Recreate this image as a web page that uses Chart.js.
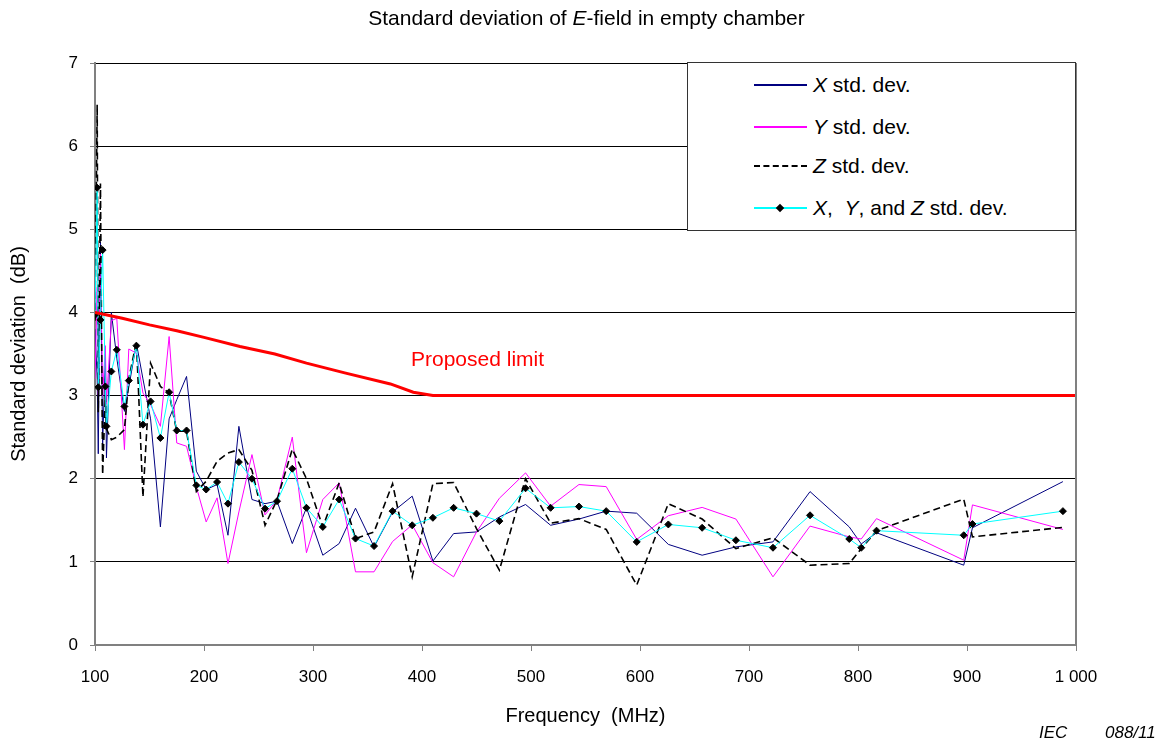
<!DOCTYPE html>
<html>
<head>
<meta charset="utf-8">
<script src="https://cdn.jsdelivr.net/npm/chart.js@4/dist/chart.umd.min.js"></script>
<style>
  body { margin: 0; background: #fff; font-family: "Liberation Sans", Arial, sans-serif; }
  #wrap { position: relative; width: 1173px; height: 742px; }
  #chart { position: absolute; left: 0; top: 0; }
  .ov { position: absolute; white-space: nowrap; color: #000; }
  #title { left: 0; width: 1173px; top: 5px; text-align: center; font-size: 21px; line-height: 26px; }
  #legend { left: 687px; top: 62px; width: 387px; height: 167px; border: 1px solid #333; background: #fff; }
  .row { position: absolute; left: 66px; height: 24px; font-size: 21px; }
  .sample { position: absolute; left: 0; top: 11px; width: 53px; height: 2px; }
  .lbl { position: absolute; left: 59px; top: 0; line-height: 24px; }
  #limit { left: 411px; top: 346px; font-size: 21px; line-height: 26px; color: #ff0000; }
  .iec { top: 723px; font-size: 17px; line-height: 20px; font-style: italic; }
</style>
</head>
<body>
<div id="wrap">
  <canvas id="chart" width="1173" height="742"></canvas>
  <div class="ov" id="title">Standard deviation of <i>E</i>-field in empty chamber</div>
  <div class="ov" id="legend">
    <div class="row" style="top:10px"><div class="sample" style="background:#000080"></div><div class="lbl"><i>X</i> std. dev.</div></div>
    <div class="row" style="top:52px"><div class="sample" style="background:#ff00ff"></div><div class="lbl"><i>Y</i> std. dev.</div></div>
    <div class="row" style="top:91px"><div class="sample" style="height:0;border-top:2px dashed #000"></div><div class="lbl"><i>Z</i> std. dev.</div></div>
    <div class="row" style="top:133px"><div class="sample" style="background:#00ffff"></div>
      <div style="position:absolute;left:23px;top:9px;width:6px;height:6px;background:#000;transform:rotate(45deg)"></div>
      <div class="lbl"><i>X</i>,&nbsp; <i>Y</i>, and <i>Z</i> std. dev.</div></div>
  </div>
  <div class="ov" id="limit">Proposed limit</div>
  <div class="ov iec" style="left:1039px">IEC</div>
  <div class="ov iec" style="left:1105px">088/11</div>
</div>
<script>
// frequencies (MHz) shared by all measured series
const freq = [100, 102, 103, 105, 107, 109.5, 110.5, 115, 120, 127, 131, 138, 144, 151, 160, 168, 175, 184, 193, 202,
  212, 222, 232, 244, 256, 267, 281, 294, 309, 324, 339, 356, 373, 391, 410, 429, 450, 471, 495, 518,
  544, 569, 597, 626, 657, 688, 722, 756, 792, 803, 817, 897, 905, 988];

const xStd = [3.8, 3.2, 2.3, 4.85, 2.4, 3.5, 2.25, 4.0, 3.45, 2.81, 3.1, 3.63, 3.2, 2.72, 1.42, 2.72, 2.95, 3.23, 2.09, 1.87,
  1.93, 1.32, 2.63, 1.75, 1.70, 1.73, 1.22, 1.65, 1.08, 1.22, 1.645, 1.18, 1.6, 1.79, 1.01, 1.34, 1.36, 1.54, 1.69, 1.44,
  1.515, 1.61, 1.585, 1.21, 1.08, 1.18, 1.24, 1.845, 1.42, 1.215, 1.35, 0.96, 1.41, 1.965];

const yStd = [3.2, 4.3, 3.0, 4.7, 3.0, 3.6, 2.9, 3.9, 3.93, 2.35, 3.56, 3.51, 3.03, 2.89, 2.63, 3.71, 2.43, 2.39, 1.9, 1.48,
  1.77, 0.98, 1.6, 2.29, 1.565, 1.745, 2.5, 1.11, 1.75, 1.95, 0.88, 0.88, 1.245, 1.445, 0.99, 0.82, 1.36, 1.765, 2.07, 1.67,
  1.93, 1.905, 1.27, 1.555, 1.655, 1.515, 0.82, 1.43, 1.30, 1.275, 1.52, 1.02, 1.685, 1.39];

const zStd = [3.9, 6.5, 2.8, 5.55, 2.05, 3.0, 2.6, 2.47, 2.5, 2.59, 3.2, 3.65, 1.78, 3.39, 3.11, 3.03, 2.57, 2.57, 1.845, 1.97,
  2.21, 2.31, 2.35, 2.1, 1.44, 1.745, 2.355, 2.0, 1.42, 1.95, 1.28, 1.36, 1.94, 0.82, 1.94, 1.955, 1.4, 0.9, 2.0, 1.465,
  1.52, 1.39, 0.72, 1.70, 1.515, 1.16, 1.29, 0.96, 0.98, 1.16, 1.375, 1.755, 1.30, 1.415];

const xyzStd = [3.97, 5.5, 3.1, 3.91, 4.75, 3.11, 2.63, 3.29, 3.55, 2.87, 3.18, 3.6, 2.65, 2.93, 2.49, 3.04, 2.58, 2.58, 1.92, 1.87,
  1.96, 1.70, 2.20, 2.0, 1.64, 1.73, 2.12, 1.65, 1.42, 1.75, 1.28, 1.19, 1.61, 1.44, 1.53, 1.65, 1.58, 1.49, 1.885, 1.65,
  1.665, 1.61, 1.24, 1.45, 1.41, 1.26, 1.17, 1.56, 1.275, 1.17, 1.375, 1.32, 1.455, 1.61];

// proposed limit curve
const limitFreq = [100, 125, 150, 175, 200, 233, 265, 294, 330, 371, 392, 410, 1000];
const limitVal = [4.0, 3.93, 3.85, 3.78, 3.70, 3.59, 3.50, 3.39, 3.27, 3.14, 3.04, 3.0, 3.0];

const xTicks = [100, 200, 300, 400, 500, 600, 700, 800, 900, 1000];

function pts(xs, ys) {
  return xs.map((x, i) => ({ x: x, y: ys[i] }));
}

// right frame line of the plot area
const frame = {
  id: 'frame',
  afterDraw(chart) {
    const a = chart.chartArea, ctx = chart.ctx;
    ctx.save();
    ctx.strokeStyle = '#808080';
    ctx.lineWidth = 2;
    ctx.beginPath();
    ctx.moveTo(a.right, a.top);
    ctx.lineTo(a.right, a.bottom);
    ctx.stroke();
    ctx.restore();
  }
};

const fontTick = { family: '"Liberation Sans", Arial, sans-serif', size: 17 };
const fontTitle = { family: '"Liberation Sans", Arial, sans-serif', size: 20 };

new Chart(document.getElementById('chart'), {
  type: 'line',
  data: {
    datasets: [
      { label: 'Proposed limit', data: pts(limitFreq, limitVal), borderColor: '#ff0000', borderWidth: 3,
        pointRadius: 0, order: 1 },
      { label: 'X, Y, and Z std. dev.', data: pts(freq, xyzStd), borderColor: '#00ffff', borderWidth: 1,
        pointStyle: 'rectRot', pointRadius: 3.5, pointBackgroundColor: '#000', pointBorderColor: '#000', order: 2 },
      { label: 'Z std. dev.', data: pts(freq, zStd), borderColor: '#000', borderWidth: 1.6, borderDash: [7, 4],
        pointRadius: 0, order: 3 },
      { label: 'Y std. dev.', data: pts(freq, yStd), borderColor: '#ff00ff', borderWidth: 1, pointRadius: 0, order: 4 },
      { label: 'X std. dev.', data: pts(freq, xStd), borderColor: '#000080', borderWidth: 1, pointRadius: 0, order: 5 }
    ]
  },
  options: {
    responsive: false,
    animation: false,
    devicePixelRatio: 1,
    layout: { padding: { left: 0, right: 97, top: 63, bottom: 0 } },
    plugins: { legend: { display: false }, tooltip: { enabled: false } },
    scales: {
      x: {
        type: 'linear', min: 100, max: 1000,
        afterFit(s) { s.height = 97; },
        afterBuildTicks(s) { s.ticks = xTicks.map(v => ({ value: v })); },
        ticks: { color: '#000', font: fontTick, padding: 16, maxRotation: 0,
          callback: v => v === 1000 ? '1 000' : String(v) },
        grid: { drawOnChartArea: false, drawTicks: true, tickLength: 6, tickColor: '#808080' },
        border: { color: '#808080', width: 2 },
        title: { display: true, text: 'Frequency  (MHz)', color: '#000', font: fontTitle, padding: { top: 0, bottom: 14 } }
      },
      y: {
        min: 0, max: 7,
        afterFit(s) { s.width = 95; },
        ticks: { stepSize: 1, color: '#000', font: fontTick, padding: 12 },
        grid: { color: '#000', lineWidth: 1, tickLength: 5, tickColor: '#808080' },
        border: { color: '#808080', width: 2 },
        title: { display: true, text: 'Standard deviation  (dB)', color: '#000', font: fontTitle, padding: { top: 7, bottom: 0 } }
      }
    }
  },
  plugins: [frame]
});
</script>
</body>
</html>
